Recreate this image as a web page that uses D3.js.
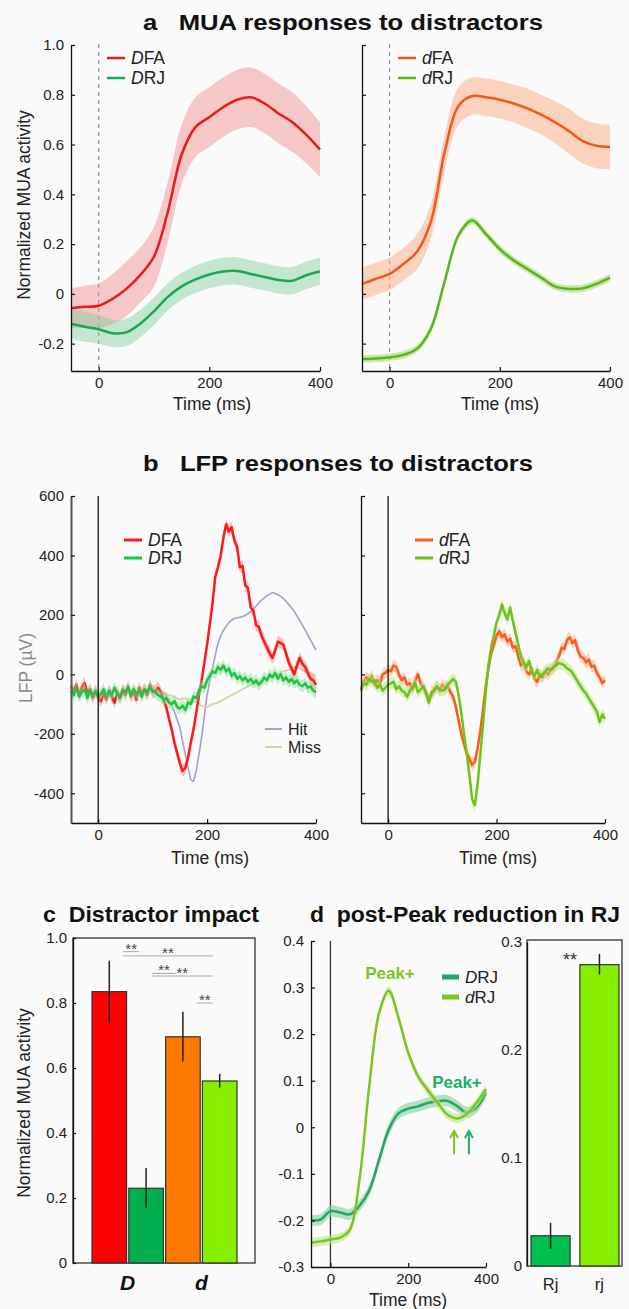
<!DOCTYPE html>
<html>
<head>
<meta charset="utf-8">
<script src="https://cdn.jsdelivr.net/npm/d3@7"></script>
<style>
  body { margin: 0; background: #fafafa; }
  svg { display: block; font-family: "Liberation Sans", Arial, Helvetica, sans-serif; }
</style>
</head>
<body>
<svg id="fig" width="629" height="1309"></svg>
<script>
// ---------- data ----------
// smooth MUA curves, sampled every 25 ms
const tSmooth = d3.range(-50, 401, 25);
const aDFA    = [-0.058,-0.052,-0.048,-0.02,0.02,0.075,0.15,0.33,0.56,0.67,0.71,0.75,0.78,0.79,0.765,0.725,0.69,0.64,0.58];
const aDFAsem = [0.08,0.085,0.09,0.1,0.11,0.11,0.12,0.12,0.12,0.12,0.12,0.12,0.12,0.12,0.12,0.12,0.12,0.115,0.11];
const aDRJ    = [-0.12,-0.132,-0.142,-0.158,-0.155,-0.12,-0.07,-0.012,0.03,0.058,0.078,0.09,0.092,0.08,0.068,0.056,0.053,0.075,0.09];
const aDRJsem = [0.06,0.06,0.058,0.055,0.055,0.055,0.055,0.055,0.055,0.055,0.055,0.055,0.055,0.055,0.055,0.055,0.055,0.055,0.055];
const adFA    = [0.04,0.06,0.08,0.12,0.17,0.29,0.57,0.755,0.795,0.79,0.78,0.765,0.745,0.72,0.69,0.655,0.615,0.595,0.59];
const adFAsem = [0.065,0.065,0.065,0.065,0.07,0.07,0.07,0.075,0.075,0.075,0.075,0.075,0.08,0.08,0.085,0.09,0.09,0.09,0.09];
const adRJ    = [-0.262,-0.26,-0.255,-0.245,-0.22,-0.14,0.05,0.235,0.295,0.24,0.18,0.135,0.1,0.065,0.03,0.02,0.022,0.04,0.065];
const adRJsem = [0.015,0.015,0.015,0.015,0.015,0.015,0.015,0.015,0.015,0.015,0.015,0.015,0.015,0.015,0.015,0.015,0.015,0.015,0.015];

// LFP traces, sampled every 5 ms
const tLFP = d3.range(-50, 401, 5);
const bDFA = [-40,-60,-35,-70,-45,-30,-65,-50,-80,-55,-75,
  -90,-60,-85,-55,-75,-95,-60,-80,-50,-70,
  -40,-75,-55,-85,-45,-65,-50,-70,-35,-60,
  -55,-45,-60,-85,-110,-150,-185,-230,-265,-300,
  -325,-315,-280,-230,-185,-130,-70,-20,40,100,
  170,240,330,360,400,460,505,480,495,450,
  430,360,365,300,290,225,215,165,160,130,
  110,90,70,55,80,110,105,100,70,40,
  20,0,30,55,35,25,5,-15,-20,-35];
const bDRJ = [-55,-70,-45,-75,-60,-50,-80,-55,-70,-60,-75,
  -65,-50,-75,-55,-70,-45,-65,-80,-55,-60,
  -45,-70,-50,-65,-55,-75,-50,-60,-45,-55,
  -60,-70,-75,-85,-80,-95,-100,-90,-110,-115,
  -105,-120,-95,-100,-75,-80,-55,-40,-45,-20,
  -5,10,5,25,15,30,10,20,-5,5,
  -15,-5,-20,-10,-25,-15,-30,-20,-35,-25,
  -10,-20,0,-10,5,-15,0,-20,-10,-25,
  -15,-30,-20,-35,-40,-30,-45,-40,-55,-60];
const bdFA = [-55,-25,-10,-20,-5,-35,-20,-30,0,5,15,
  10,30,25,0,-20,-10,-35,-30,-50,-20,
  0,-30,-45,-60,-85,-70,-50,-40,-55,-35,
  -45,-40,-60,-75,-110,-155,-200,-235,-265,-285,
  -305,-295,-250,-190,-120,-40,20,70,100,130,
  145,125,135,110,120,90,95,60,30,40,
  10,0,20,-15,-25,0,-10,10,0,15,
  20,40,60,90,85,115,125,105,115,80,
  60,55,40,50,25,30,5,-10,-30,-20];
const bdRJ = [-45,-30,-35,-15,-25,-20,-45,-35,-55,-45,-35,
  -30,-25,-50,-40,-55,-60,-75,-55,-45,-30,
  -60,-50,-40,-65,-95,-60,-55,-40,-50,-55,
  -50,-35,-25,-15,-25,-70,-130,-200,-265,-340,
  -420,-440,-370,-270,-170,-60,30,90,130,175,
  200,235,205,185,225,180,140,100,60,40,
  25,45,5,-5,15,-10,0,10,20,15,
  25,30,38,35,30,20,15,5,-10,-25,
  -40,-55,-65,-80,-95,-110,-125,-160,-135,-150];
const hitT = [100,110,120,130,140,150,160,170,175,180,185,190,195,200,205,210,215,220,225,230,240,250,260,270,280,290,300,310,320,330,340,350,360,370,380,390,400];
const hitV = [-55,-55,-62,-85,-125,-180,-270,-355,-360,-325,-270,-210,-140,-70,-20,20,65,105,130,148,175,188,192,198,212,230,250,265,275,268,256,235,212,182,150,115,82];
const missT = d3.range(100, 401, 10);
const missV = [-55,-60,-60,-70,-75,-85,-80,-95,-90,-105,-110,-100,-95,-85,-75,-65,-55,-45,-35,-30,-20,-15,-5,0,10,15,25,20,10,5,-5];

// panel c bars
const cCats = ['DFA', 'DRJ', 'dFA', 'dRJ'];
const cVals = [0.835, 0.23, 0.696, 0.56];
const cErrLo = [0.74, 0.17, 0.62, 0.54];
const cErrHi = [0.93, 0.292, 0.773, 0.582];
const cColors = ['#ff0000', '#00b04f', '#ff7800', '#88ee00'];
const cGroups = [['D', 'DFA', 'DRJ'], ['d', 'dFA', 'dRJ']];
const cSig = [['DFA', 'DRJ', 0.958], ['DFA', 'dRJ', 0.945], ['DRJ', 'dFA', 0.891], ['DRJ', 'dRJ', 0.883], ['dFA', 'dRJ', 0.80]];

// panel d curves and bars
const dDRJ    = [-0.2,-0.198,-0.18,-0.183,-0.187,-0.168,-0.135,-0.07,-0.005,0.03,0.04,0.045,0.052,0.056,0.057,0.046,0.032,0.042,0.075];
const dDRJsem = [0.012,0.012,0.012,0.012,0.012,0.012,0.012,0.012,0.012,0.012,0.012,0.012,0.012,0.012,0.012,0.012,0.012,0.012,0.012];
const ddRJ    = [-0.248,-0.245,-0.241,-0.237,-0.22,-0.11,0.09,0.245,0.293,0.235,0.16,0.11,0.08,0.053,0.028,0.019,0.028,0.052,0.082];
const ddRJsem = [0.01,0.01,0.01,0.01,0.01,0.01,0.01,0.01,0.01,0.01,0.01,0.01,0.01,0.01,0.01,0.01,0.01,0.01,0.01];
const peakT = [318, 356];
const dCats = ['Rj', 'rj'];
const dVals = [0.028, 0.279];
const dErrLo = [0.016, 0.27];
const dErrHi = [0.04, 0.289];

// ---------- helpers ----------
const svg = d3.select('#fig');
const fmt1 = d => d === 0 ? '0' : d.toFixed(1);

function styleAxis(g, size) {
  g.attr('font-family', null).attr('font-size', null);
  g.selectAll('path.domain').attr('stroke', '#111').attr('stroke-width', 1.3);
  g.selectAll('.tick line').attr('stroke', '#111').attr('stroke-width', 1.2);
  g.selectAll('.tick text').attr('fill', '#222').style('font-size', size + 'px');
}

function yAxis(x0, y, ticks, labels, pad) {
  const ax = d3.axisLeft(y).tickValues(ticks).tickSizeInner(-4).tickSizeOuter(0)
    .tickPadding(pad || 7).tickFormat(labels ? labels : () => '');
  const g = svg.append('g').attr('transform', `translate(${x0},0)`).call(ax);
  styleAxis(g, 15);
  return g;
}

function xAxis(y0, x, ticks) {
  const ax = d3.axisBottom(x).tickValues(ticks).tickSizeInner(-4).tickSizeOuter(0).tickPadding(6);
  const g = svg.append('g').attr('transform', `translate(0,${y0})`).call(ax);
  styleAxis(g, 15);
  return g;
}

function axisLabel(x, y, txt, rotate, color) {
  svg.append('text')
    .attr('transform', `translate(${x},${y})` + (rotate ? ' rotate(-90)' : ''))
    .attr('text-anchor', 'middle')
    .attr('fill', color || '#222')
    .style('font-size', '17.5px')
    .text(txt);
}

// titles are wider than their height suggests, so stretch to the measured width
function title(x, y, txt, len) {
  svg.append('text')
    .attr('x', x).attr('y', y)
    .attr('text-anchor', 'middle')
    .attr('xml:space', 'preserve')
    .style('white-space', 'pre')
    .style('font-weight', 'bold')
    .style('font-size', '22px')
    .attr('textLength', len)
    .attr('lengthAdjust', 'spacingAndGlyphs')
    .attr('fill', '#111')
    .text(txt);
}

function curveBand(x, y, ts, vals, sem, color, bandColor, bandOp, lw, curve) {
  const pts = ts.map((t, i) => ({ t, v: vals[i], s: sem ? sem[i] : 0 }));
  const c = curve || d3.curveCatmullRom;
  if (sem) {
    svg.append('path').datum(pts)
      .attr('d', d3.area().curve(c).x(d => x(d.t)).y0(d => y(d.v - d.s)).y1(d => y(d.v + d.s)))
      .attr('fill', bandColor).attr('opacity', bandOp);
  }
  svg.append('path').datum(pts)
    .attr('d', d3.line().curve(c).x(d => x(d.t)).y(d => y(d.v)))
    .attr('fill', 'none').attr('stroke', color).attr('stroke-width', lw)
    .attr('stroke-linejoin', 'round');
}

function legendItem(x1, x2, y, color, pre, rest, lw, size) {
  svg.append('line').attr('x1', x1).attr('x2', x2).attr('y1', y).attr('y2', y)
    .attr('stroke', color).attr('stroke-width', lw || 2.5);
  const t = svg.append('text').attr('x', x2 + 6).attr('y', y + 6)
    .attr('fill', '#222').style('font-size', (size || 17.5) + 'px');
  if (pre) t.append('tspan').style('font-style', 'italic').text(pre);
  t.append('tspan').text(rest);
}

// ---------- panel a ----------
title(343, 30, 'a   MUA responses to distractors', 400);

const yA = d3.scaleLinear().domain([-0.31, 1.0]).range([371, 45]);
const xAL = d3.scaleLinear().domain([-50, 400]).range([71, 320]);
const xAR = d3.scaleLinear().domain([-50, 400]).range([362, 610]);
const aTicks = [-0.2, 0, 0.2, 0.4, 0.6, 0.8, 1.0];

[xAL, xAR].forEach(x => {
  svg.append('line').attr('x1', x(0)).attr('x2', x(0)).attr('y1', 44).attr('y2', 371)
    .attr('stroke', '#999').attr('stroke-width', 1.3).attr('stroke-dasharray', '4,4');
});

curveBand(xAL, yA, tSmooth, aDFA, aDFAsem, '#e8191f', '#f28a8a', 0.45, 2.5);
curveBand(xAL, yA, tSmooth, aDRJ, aDRJsem, '#17a852', '#7fcf9c', 0.45, 2.5);
curveBand(xAR, yA, tSmooth, adFA, adFAsem, '#f25816', '#f9b08a', 0.55, 2.5);
curveBand(xAR, yA, tSmooth, adRJ, adRJsem, '#5cb514', '#a6dd7a', 0.6, 2.5);

yAxis(71, yA, aTicks, fmt1);
yAxis(362, yA, aTicks, null);
xAxis(371, xAL, [0, 200, 400]);
xAxis(371, xAR, [0, 200, 400]);
axisLabel(30, 205, 'Normalized MUA activity', true);
axisLabel(212, 410, 'Time (ms)');
axisLabel(500, 410, 'Time (ms)');

legendItem(107, 125, 58, '#e8191f', 'D', 'FA');
legendItem(107, 125, 78, '#17a852', 'D', 'RJ');
legendItem(398, 416, 58, '#f25816', 'd', 'FA');
legendItem(398, 416, 78, '#5cb514', 'd', 'RJ');

// ---------- panel b ----------
title(338, 471, 'b   LFP responses to distractors', 390);

const yB = d3.scaleLinear().domain([-500, 600]).range([823, 496]);
const xBL = d3.scaleLinear().domain([-50, 400]).range([71, 316]);
const xBR = d3.scaleLinear().domain([-50, 400]).range([361, 605]);
const bTicks = [-400, -200, 0, 200, 400, 600];
const lfpSem = tLFP.map(() => 20);

curveBand(xBL, yB, hitT, hitV, null, '#a0a3c6', null, 0, 1.6, d3.curveLinear);
curveBand(xBL, yB, missT, missV, null, '#dccfa0', null, 0, 1.8, d3.curveLinear);
curveBand(xBL, yB, tLFP, bDFA, lfpSem, '#ff1a1a', '#f58a8a', 0.5, 2.5, d3.curveLinear);
curveBand(xBL, yB, tLFP, bDRJ, lfpSem, '#1fc443', '#8fe0a0', 0.5, 2.5, d3.curveLinear);
curveBand(xBR, yB, tLFP, bdFA, lfpSem, '#ff5a1a', '#f9b090', 0.5, 2.5, d3.curveLinear);
curveBand(xBR, yB, tLFP, bdRJ, lfpSem, '#6cc414', '#b5e58a', 0.5, 2.5, d3.curveLinear);

[xBL, xBR].forEach(x => {
  svg.append('line').attr('x1', x(0)).attr('x2', x(0)).attr('y1', 496).attr('y2', 823)
    .attr('stroke', '#111').attr('stroke-width', 1.3);
});

yAxis(71, yB, bTicks, d => d).selectAll('path.domain').attr('stroke', '#555').attr('stroke-width', 2);
yAxis(361, yB, bTicks, null);
xAxis(823, xBL, [0, 200, 400]);
xAxis(823, xBR, [0, 200, 400]);
axisLabel(32, 668, 'LFP (µV)', true, '#8a8a8a');
axisLabel(210, 864, 'Time (ms)');
axisLabel(498, 864, 'Time (ms)');

legendItem(124, 142, 540, '#ff1a1a', 'D', 'FA', 3);
legendItem(124, 142, 558, '#1fc443', 'D', 'RJ', 3);
legendItem(415, 433, 540, '#ff5a1a', 'd', 'FA', 3);
legendItem(415, 433, 558, '#6cc414', 'd', 'RJ', 3);
legendItem(265, 282, 729, '#a0a3c6', null, 'Hit', 2, 16);
legendItem(265, 282, 747, '#dccfa0', null, 'Miss', 2, 16);

// ---------- panel c ----------
title(151, 922, 'c  Distractor impact', 216);

const yC = d3.scaleLinear().domain([0, 1]).range([1263, 938]);
const xC = d3.scaleBand().domain(cCats).range([92, 237]).paddingInner(0.06);
const bwC = xC.bandwidth();
const cx = c => xC(c) + bwC / 2;

svg.append('rect').attr('x', 73).attr('y', 938).attr('width', 182).attr('height', 325)
  .attr('fill', 'none').attr('stroke', '#333').attr('stroke-width', 1.3);

svg.append('g').selectAll('rect').data(cCats).join('rect')
  .attr('x', d => xC(d)).attr('y', (d, i) => yC(cVals[i]))
  .attr('width', bwC).attr('height', (d, i) => yC(0) - yC(cVals[i]))
  .attr('fill', (d, i) => cColors[i]).attr('stroke', '#333').attr('stroke-width', 1.2);

svg.append('g').selectAll('line').data(cCats).join('line')
  .attr('x1', d => cx(d)).attr('x2', d => cx(d))
  .attr('y1', (d, i) => yC(cErrLo[i])).attr('y2', (d, i) => yC(cErrHi[i]))
  .attr('stroke', '#222').attr('stroke-width', 1.5);

// significance bars: from just right of the first bar's centre to just left of the second's
cSig.forEach((s, k) => {
  const x1 = cx(s[0]) + bwC * (k === 2 || k === 3 ? 0.17 : 0.4), x2 = cx(s[1]) - bwC * 0.2;
  svg.append('line').attr('x1', x1).attr('x2', x2).attr('y1', yC(s[2])).attr('y2', yC(s[2]))
    .attr('stroke', '#aaa').attr('stroke-width', 1);
  svg.append('text').attr('x', (x1 + x2) / 2).attr('y', yC(s[2]) + 2)
    .attr('text-anchor', 'middle').attr('fill', '#444').style('font-size', '15px').text('**');
});

const cAx = d3.axisLeft(yC).tickValues([0, 0.2, 0.4, 0.6, 0.8, 1.0]).tickFormat(fmt1)
  .tickSizeInner(-3).tickSizeOuter(0).tickPadding(6);
styleAxis(svg.append('g').attr('transform', 'translate(73,0)').call(cAx), 15);

cGroups.forEach(gp => {
  svg.append('text').attr('x', (cx(gp[1]) + cx(gp[2])) / 2).attr('y', 1290)
    .attr('text-anchor', 'middle').attr('fill', '#111')
    .style('font-size', '21px').style('font-weight', 'bold').style('font-style', 'italic')
    .text(gp[0]);
});
axisLabel(30, 1103, 'Normalized MUA activity', true);

// ---------- panel d ----------
title(465, 922, 'd  post-Peak reduction in RJ', 310);

const yD = d3.scaleLinear().domain([-0.3, 0.4]).range([1267, 941]);
const xD = d3.scaleLinear().domain([-50, 400]).range([311, 486]);

svg.append('line').attr('x1', xD(0)).attr('x2', xD(0)).attr('y1', 941).attr('y2', 1267)
  .attr('stroke', '#333').attr('stroke-width', 1.3);

curveBand(xD, yD, tSmooth, dDRJ, dDRJsem, '#20a862', '#86cfa4', 0.6, 2.5);
curveBand(xD, yD, tSmooth, ddRJ, ddRJsem, '#7cc61c', '#bfe58f', 0.6, 2.5);

yAxis(311, yD, [-0.3, -0.2, -0.1, 0, 0.1, 0.2, 0.3, 0.4], fmt1, 7);
xAxis(1267, xD, [0, 200, 400]);
axisLabel(408, 1306, 'Time (ms)');

svg.append('text').attr('x', 390).attr('y', 979).attr('text-anchor', 'middle')
  .attr('fill', '#7cc61c').style('font-weight', 'bold').style('font-size', '17px').text('Peak+');
svg.append('text').attr('x', 457).attr('y', 1088).attr('text-anchor', 'middle')
  .attr('fill', '#20b060').style('font-weight', 'bold').style('font-size', '17px').text('Peak+');

const arrowColors = ['#7cc61c', '#20b060'];
peakT.forEach((t, i) => {
  const ax = xD(t), yTail = yD(-0.058), yHead = yD(-0.008);
  svg.append('line').attr('x1', ax).attr('x2', ax).attr('y1', yTail).attr('y2', yHead)
    .attr('stroke', arrowColors[i]).attr('stroke-width', 2);
  svg.append('path').attr('d', `M${ax - 4},${yHead + 7}L${ax},${yHead}L${ax + 4},${yHead + 7}`)
    .attr('fill', 'none').attr('stroke', arrowColors[i]).attr('stroke-width', 2);
});

legendItem(442, 459, 977, '#20a862', 'D', 'RJ', 5, 17);
legendItem(442, 459, 997, '#7cc61c', 'd', 'RJ', 5, 17);

// bars on the right
const yDB = d3.scaleLinear().domain([0, 0.3]).range([1266, 942]);
const xDB = d3.scaleBand().domain(dCats).range([531, 619]).paddingInner(0.2);
const dColors = ['#00c050', '#88ee00'];

svg.append('rect').attr('x', 527).attr('y', 940).attr('width', 95).attr('height', 326)
  .attr('fill', 'none').attr('stroke', '#333').attr('stroke-width', 1.3);
svg.append('g').selectAll('rect').data(dCats).join('rect')
  .attr('x', d => xDB(d)).attr('y', (d, i) => yDB(dVals[i]))
  .attr('width', xDB.bandwidth()).attr('height', (d, i) => yDB(0) - yDB(dVals[i]))
  .attr('fill', (d, i) => dColors[i]).attr('stroke', '#333').attr('stroke-width', 1.2);
svg.append('g').selectAll('line').data(dCats).join('line')
  .attr('x1', d => xDB(d) + xDB.bandwidth() / 2).attr('x2', d => xDB(d) + xDB.bandwidth() / 2)
  .attr('y1', (d, i) => yDB(dErrLo[i])).attr('y2', (d, i) => yDB(dErrHi[i]))
  .attr('stroke', '#222').attr('stroke-width', 1.5);
svg.append('text').attr('x', 570).attr('y', 966).attr('text-anchor', 'middle')
  .attr('fill', '#333').style('font-size', '18px').text('**');

const dbAx = d3.axisLeft(yDB).tickValues([0, 0.1, 0.2, 0.3]).tickFormat(fmt1)
  .tickSizeInner(0).tickSizeOuter(0).tickPadding(5);
styleAxis(svg.append('g').attr('transform', 'translate(527,0)').call(dbAx), 15);

dCats.forEach(c => {
  svg.append('text').attr('x', xDB(c) + xDB.bandwidth() / 2).attr('y', 1290)
    .attr('text-anchor', 'middle').attr('fill', '#222').style('font-size', '16.5px').text(c);
});
</script>
</body>
</html>
